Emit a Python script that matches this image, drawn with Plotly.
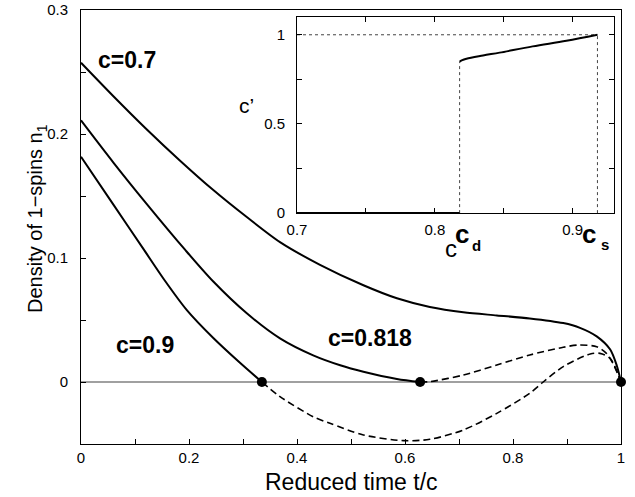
import plotly.graph_objects as go

# ---------------- data ----------------
# c = 0.7 (solid, all the way to t/c = 1)
t_07 = [0.0, 0.06, 0.12, 0.183, 0.245, 0.307, 0.3685, 0.4426, 0.523, 0.585, 0.646,
        0.708, 0.770, 0.831, 0.893, 0.924, 0.955, 0.98, 0.992, 1.0]
n_07 = [0.2575, 0.2305, 0.2045, 0.1787, 0.1548, 0.1330, 0.1128, 0.0945, 0.0780, 0.0675, 0.0605,
        0.0562, 0.0537, 0.0513, 0.0475, 0.0437, 0.0368, 0.0262, 0.0135, 0.0]

# c = 0.818 solid part (until it touches zero) and dashed continuation
t_0818 = [0.0, 0.06, 0.12, 0.193, 0.245, 0.307, 0.3685, 0.43, 0.48, 0.523, 0.585, 0.628]
n_0818 = [0.211, 0.177, 0.1445, 0.1065, 0.081, 0.0554, 0.0352, 0.0215, 0.0135, 0.0083, 0.0025, 0.0]
t_0818d = [0.628, 0.646, 0.708, 0.770, 0.831, 0.893, 0.921, 0.955, 0.973, 0.985, 1.0]
n_0818d = [0.0, 0.0003, 0.0056, 0.0137, 0.0218, 0.028, 0.0298, 0.0285, 0.0231, 0.015, 0.0]

# c = 0.9 solid part and dashed continuation
t_09 = [0.0, 0.06, 0.118, 0.1525, 0.196, 0.245, 0.2944, 0.335]
n_09 = [0.1817, 0.143, 0.1057, 0.0835, 0.058, 0.0355, 0.0155, 0.0]
t_09d = [0.335, 0.3685, 0.43, 0.461, 0.523, 0.597, 0.646, 0.708, 0.770, 0.831, 0.856,
         0.893, 0.943, 0.961, 0.98, 1.0]
n_09d = [0.0, -0.0118, -0.028, -0.0333, -0.0427, -0.0473, -0.0462, -0.0387, -0.0253, -0.0091, 0.0,
         0.0124, 0.0226, 0.0231, 0.019, 0.0]

# zero points (black dots)
dot_t = [0.335, 0.628, 1.0]
dot_n = [0.0, 0.0, 0.0]

# inset: c' versus c
c_d = 0.818
c_s = 0.918
inset_c = [0.818, 0.8195, 0.823, 0.835, 0.847, 0.871, 0.8955, 0.918]
inset_cp = [0.849, 0.856, 0.866, 0.884, 0.90, 0.935, 0.966, 1.0]

# tick positions
main_x_ticks = [0, 0.1, 0.2, 0.3, 0.4, 0.5, 0.6, 0.7, 0.8, 0.9, 1.0]
main_x_labels = ["0", "", "0.2", "", "0.4", "", "0.6", "", "0.8", "", "1"]
main_y_ticks = [-0.05, 0, 0.05, 0.1, 0.15, 0.2, 0.25, 0.3]
main_y_labels = ["", "0", "", "0.1", "", "0.2", "", "0.3"]
inset_x_ticks = [0.7, 0.75, 0.8, 0.85, 0.9]
inset_x_labels = ["0.7", "", "0.8", "", "0.9"]
inset_y_ticks = [0, 0.25, 0.5, 0.75, 1.0]
inset_y_labels = ["0", "", "0.5", "", "1"]

FONT = "Liberation Sans, Arial, Helvetica, sans-serif"

fig = go.Figure()

# zero line
fig.add_trace(go.Scatter(x=[0, 1], y=[0, 0], mode="lines",
                         line=dict(color="#808080", width=1.5), showlegend=False))

solid = dict(color="black", width=2, shape="spline", smoothing=0.8)
dashed = dict(color="black", width=1.6, dash="7px,4px", shape="spline", smoothing=0.8)

fig.add_trace(go.Scatter(x=t_07, y=n_07, mode="lines", line=solid, showlegend=False))
fig.add_trace(go.Scatter(x=t_0818, y=n_0818, mode="lines", line=solid, showlegend=False))
fig.add_trace(go.Scatter(x=t_0818d, y=n_0818d, mode="lines", line=dashed, showlegend=False))
fig.add_trace(go.Scatter(x=t_09, y=n_09, mode="lines", line=solid, showlegend=False))
fig.add_trace(go.Scatter(x=t_09d, y=n_09d, mode="lines", line=dashed, showlegend=False))
fig.add_trace(go.Scatter(x=dot_t, y=dot_n, mode="markers", cliponaxis=False,
                         marker=dict(color="black", size=10), showlegend=False))

# inset traces
dotted = dict(color="#444444", width=1, dash="dot")
fig.add_trace(go.Scatter(x=[0.7, c_s], y=[1, 1], mode="lines", line=dotted,
                         xaxis="x2", yaxis="y2", showlegend=False))
fig.add_trace(go.Scatter(x=[c_s, c_s], y=[0, 1], mode="lines", line=dotted,
                         xaxis="x2", yaxis="y2", showlegend=False))
fig.add_trace(go.Scatter(x=[c_d, c_d], y=[0, inset_cp[0]], mode="lines", line=dotted,
                         xaxis="x2", yaxis="y2", showlegend=False))
fig.add_trace(go.Scatter(x=[0.7, c_d], y=[0, 0], mode="lines", line=dict(color="black", width=2),
                         xaxis="x2", yaxis="y2", cliponaxis=False, showlegend=False))
fig.add_trace(go.Scatter(x=inset_c, y=inset_cp, mode="lines",
                         line=dict(color="black", width=2, shape="spline"),
                         xaxis="x2", yaxis="y2", showlegend=False))

tickfont = dict(family=FONT, size=15, color="black")
common = dict(showline=True, linecolor="black", linewidth=1, showgrid=False, zeroline=False,
              tickfont=tickfont, automargin=False, tickcolor="black", tickwidth=1.2,
              ticks="inside", ticklen=5, tickmode="array")

fig.update_layout(
    width=635, height=497,
    margin=dict(l=81, r=14, t=10, b=53),
    paper_bgcolor="white", plot_bgcolor="white",
    font=dict(family=FONT, color="black"),
    xaxis=dict(common, range=[0, 1], tickvals=main_x_ticks, ticktext=main_x_labels,
               mirror=True, ticklabelstandoff=0),
    yaxis=dict(common, range=[-0.05, 0.3], tickvals=main_y_ticks, ticktext=main_y_labels,
               mirror=True, ticklabelstandoff=9),
    xaxis2=dict(common, domain=[0.4, 0.987], anchor="y2", range=[0.7, 0.93],
                tickvals=inset_x_ticks, ticktext=inset_x_labels,
                mirror="ticks", ticklabelstandoff=3),
    yaxis2=dict(common, domain=[0.532, 0.984], anchor="x2", range=[0, 1.1],
                tickvals=inset_y_ticks, ticktext=inset_y_labels,
                mirror="ticks", ticklabelstandoff=8),
)

bold = dict(family=FONT, size=23, color="black")
ann = [
    # axis titles
    dict(x=0.5, y=-0.0876, xref="paper", yref="paper", text="Reduced time t/c",
         font=dict(family=FONT, size=23, color="black"), showarrow=False, yanchor="middle"),
    dict(x=-0.109, y=0.52, xref="paper", yref="paper", text="Density of 1\u2212spins n<sub>1</sub>",
         font=dict(family=FONT, size=20, color="black"), showarrow=False, textangle=-90),
    # curve labels
    dict(x=0.085, y=0.2597, xref="x", yref="y", text="<b>c=0.7</b>", font=bold, showarrow=False),
    dict(x=0.1185, y=0.0298, xref="x", yref="y", text="<b>c=0.9</b>", font=bold, showarrow=False),
    dict(x=0.535, y=0.0355, xref="x", yref="y", text="<b>c=0.818</b>", font=bold, showarrow=False),
    # inset labels (paper coordinates)
    dict(x=0.288, y=0.812, xref="paper", yref="paper", text="c\u2019",
         font=dict(family=FONT, size=21, color="black"), showarrow=False),
    dict(x=0.70, y=0.4516, xref="paper", yref="paper", text="c",
         font=dict(family=FONT, size=24, color="black"), showarrow=False),
    dict(x=0.7215, y=0.4839, xref="paper", yref="paper", text="<b>c</b>",
         font=dict(family=FONT, size=26, color="black"), showarrow=False),
    dict(x=0.7437, y=0.4585, xref="paper", yref="paper", text="<b>d</b>",
         font=dict(family=FONT, size=15, color="black"), showarrow=False),
    dict(x=0.9583, y=0.4839, xref="paper", yref="paper", text="<b>c</b>",
         font=dict(family=FONT, size=26, color="black"), showarrow=False),
    dict(x=0.9816, y=0.4608, xref="paper", yref="paper", text="<b>s</b>",
         font=dict(family=FONT, size=15, color="black"), showarrow=False),
]
fig.update_layout(annotations=ann)

# remove the default page margin so the figure sits at the window's top-left corner
fig.write_html("out.html", config={"displayModeBar": False},
               post_script="document.body.style.margin='0px';")
